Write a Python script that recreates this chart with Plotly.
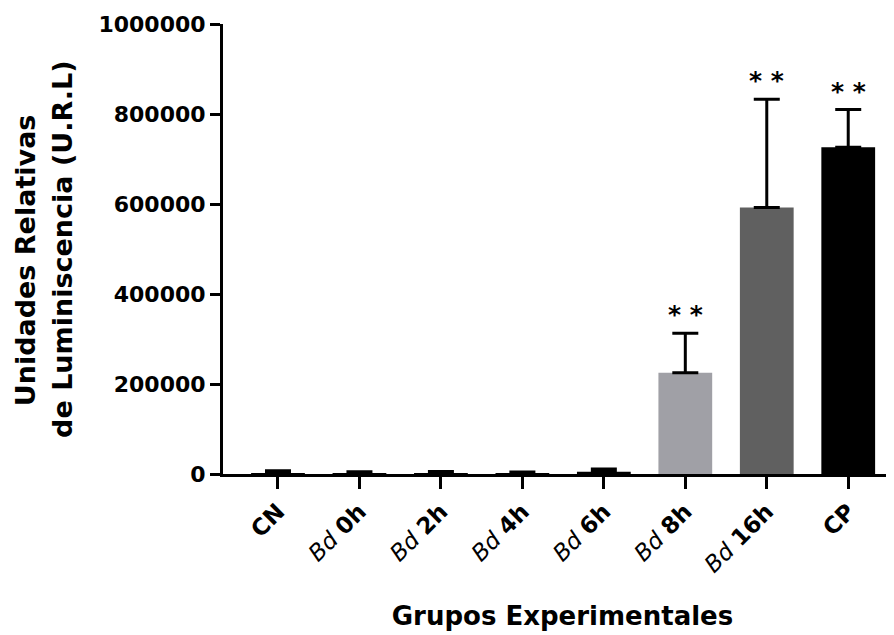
import plotly.graph_objects as go

# ---- data ----
categories = ["CN", "Bd 0h", "Bd 2h", "Bd 4h", "Bd 6h", "Bd 8h", "Bd 16h", "CP"]
tick_labels = ["<b>CN</b>", "<i>Bd</i> <b>0h</b>", "<i>Bd</i> <b>2h</b>", "<i>Bd</i> <b>4h</b>",
               "<i>Bd</i> <b>6h</b>", "<i>Bd</i> <b>8h</b>", "<i>Bd</i> <b>16h</b>", "<b>CP</b>"]
values = [2000, 1000, 1500, 1000, 5000, 225000, 592000, 726000]
errors = [5000, 4000, 4000, 3500, 6000, 88000, 241000, 84000]
significance = ["", "", "", "", "", "**", "**", "**"]
y_ticks = [0, 200000, 400000, 600000, 800000, 1000000]
y_title_lines = ["Unidades Relativas", "de Luminiscencia (U.R.L)"]
x_title = "Grupos Experimentales"

# ---- style ----
bar_colors = ["#000000", "#000000", "#000000", "#000000", "#000000", "#a0a0a6", "#606060", "#000000"]
FONT = "DejaVu Sans, Verdana, sans-serif"
ML, MT, MB = 215, 16, 169          # page body adds an 8px offset
W, H = 894, 635
PLOT_W = W - ML

fig = go.Figure()
fig.add_trace(go.Bar(
    x=categories, y=values, width=0.66,
    marker=dict(color=bar_colors, line=dict(width=0)),
    error_y=dict(type="data", array=errors, arrayminus=[0] * len(errors), symmetric=False,
                 color="black", thickness=3, width=13),
    showlegend=False,
))

for c, v, e, s in zip(categories, values, errors, significance):
    if s:
        fig.add_annotation(x=c, y=v + e, text="<b>%s</b>" % s.replace("**", "* *"), showarrow=False,
                           yanchor="bottom", yshift=2,
                           font=dict(family=FONT, size=25, color="black"))

# y-axis title, two lines placed in the left margin (screen x of line centres)
for line, xpx, yc in zip(y_title_lines, [25, 63], [0.475, 0.498]):
    fig.add_annotation(xref="paper", yref="paper", x=(xpx - 8 - ML) / PLOT_W, y=yc,
                       text="<b>%s</b>" % line, textangle=-90, showarrow=False,
                       xanchor="center", yanchor="middle",
                       font=dict(family=FONT, size=27, color="black"))

fig.update_layout(
    width=W, height=H,
    margin=dict(l=ML, r=0, t=MT, b=MB),
    plot_bgcolor="white", paper_bgcolor="white",
    font=dict(family=FONT, color="black"),
)
fig.update_xaxes(
    tickmode="array", tickvals=categories, ticktext=tick_labels,
    tickangle=-45, tickfont=dict(size=23, family=FONT),
    range=[-0.675, 7.66], automargin=False,
    showline=True, linecolor="black", linewidth=3,
    ticks="outside", ticklen=12, tickwidth=3, tickcolor="black",
    showgrid=False, zeroline=False,
    title=dict(text="<b>%s</b>" % x_title, font=dict(size=26, family=FONT), standoff=31),
)
fig.update_yaxes(
    range=[0, 1000000], tickmode="array", tickvals=y_ticks,
    ticktext=["<b>%d</b>" % t for t in y_ticks],
    tickfont=dict(size=22, family=FONT), automargin=False,
    showline=True, linecolor="black", linewidth=3,
    ticks="outside", ticklen=10, tickwidth=3, tickcolor="black",
    showgrid=False, zeroline=False,
)

fig.write_html("out.html")
